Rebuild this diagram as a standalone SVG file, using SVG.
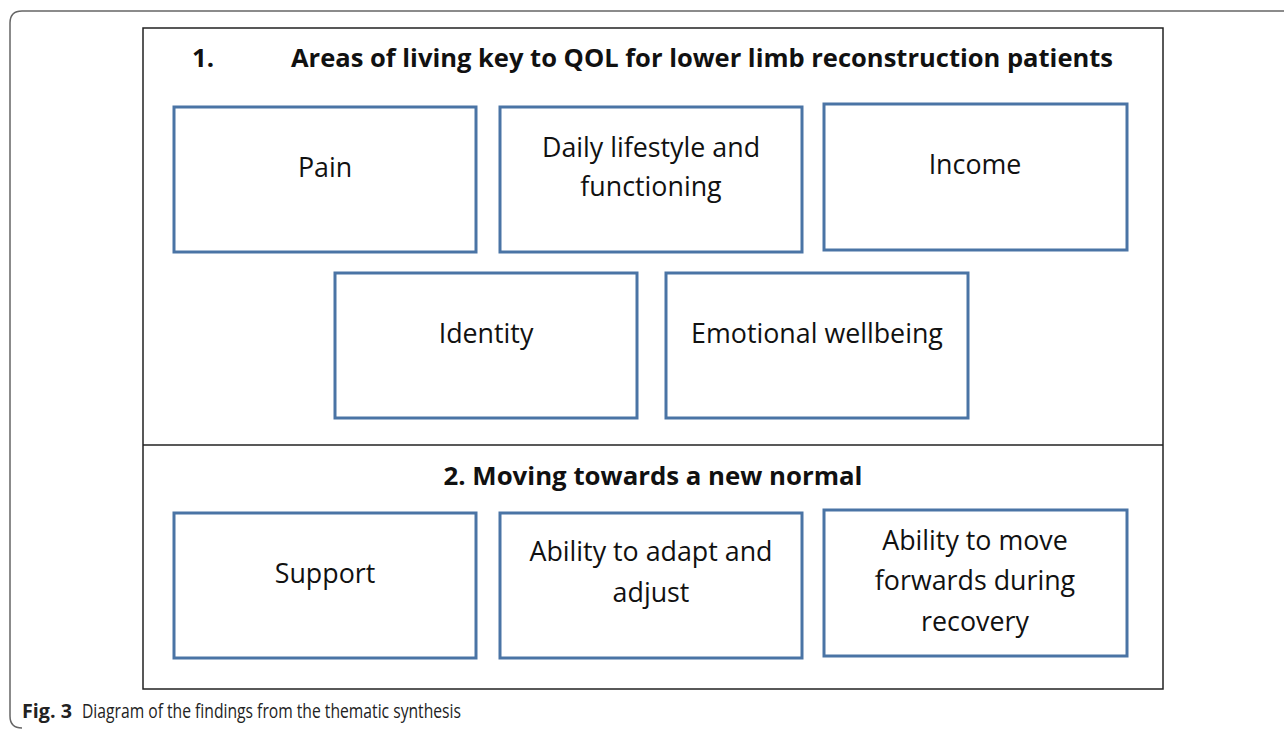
<svg xmlns="http://www.w3.org/2000/svg" width="1284" height="730" viewBox="0 0 1284 730">
<style>
.box{fill:#fff;stroke:#4a74a5;stroke-width:3}
.lbl{font-family:"Open Sans","Noto Sans",sans-serif;font-size:26.8px;fill:#111;text-anchor:middle}
.hd{font-family:"Open Sans","Noto Sans",sans-serif;font-size:25.8px;font-weight:bold;fill:#111}
.cap{font-family:"Open Sans","Noto Sans",sans-serif;font-size:19.5px;fill:#222}
</style>
<rect width="1284" height="730" fill="#fff"/>
<path d="M1284 11 H22 Q10 11 10 23 V716 Q10 728 22 728" fill="none" stroke="#666" stroke-width="1.5"/>
<rect x="143" y="28" width="1020" height="661" fill="#fff" stroke="#222" stroke-width="1.5"/>
<line x1="143" y1="445" x2="1163" y2="445" stroke="#222" stroke-width="1.5"/>
<g id="heading1">
<text class="hd" x="192" y="67">1.</text>
<text class="hd" x="291" y="67" textLength="822" lengthAdjust="spacingAndGlyphs">Areas of living key to QOL for lower limb reconstruction patients</text>
</g>
<g id="pain"><rect class="box" x="174" y="107" width="302" height="145"/><text class="lbl" x="325" y="177">Pain</text></g>
<g id="daily"><rect class="box" x="500" y="107" width="302" height="145"/><text class="lbl" x="651" y="157">Daily lifestyle and</text><text class="lbl" x="651" y="196">functioning</text></g>
<g id="income"><rect class="box" x="824" y="104" width="303" height="146"/><text class="lbl" x="975" y="174">Income</text></g>
<g id="identity"><rect class="box" x="335" y="273" width="302" height="145"/><text class="lbl" x="486" y="343">Identity</text></g>
<g id="emotional"><rect class="box" x="666" y="273" width="302" height="145"/><text class="lbl" x="817" y="343">Emotional wellbeing</text></g>
<g id="heading2"><text class="hd" x="653" y="485" text-anchor="middle">2. Moving towards a new normal</text></g>
<g id="support"><rect class="box" x="174" y="513" width="302" height="145"/><text class="lbl" x="325" y="583">Support</text></g>
<g id="adapt"><rect class="box" x="500" y="513" width="302" height="145"/><text class="lbl" x="651" y="561">Ability to adapt and</text><text class="lbl" x="651" y="602">adjust</text></g>
<g id="forwards"><rect class="box" x="824" y="510" width="303" height="146"/><text class="lbl" x="975" y="550">Ability to move</text><text class="lbl" x="975" y="590">forwards during</text><text class="lbl" x="975" y="631">recovery</text></g>
<g id="caption"><text class="cap" x="22" y="718" font-weight="bold" textLength="50" lengthAdjust="spacingAndGlyphs">Fig. 3</text><text class="cap" x="82" y="718" textLength="379" lengthAdjust="spacingAndGlyphs">Diagram of the findings from the thematic synthesis</text></g>
<g id="connectors"></g>
</svg>
